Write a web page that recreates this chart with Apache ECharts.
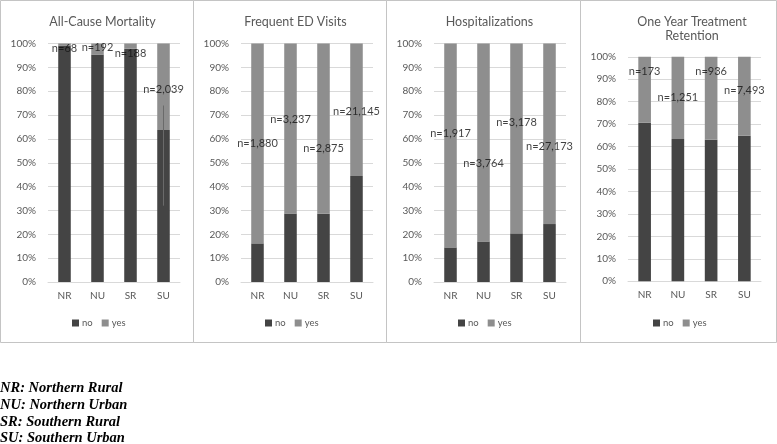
<!DOCTYPE html>
<html>
<head>
<meta charset="utf-8">
<script src="https://cdn.jsdelivr.net/npm/echarts@6/dist/echarts.min.js"></script>
<style>
  html, body { margin: 0; padding: 0; background: #fff; }
  #chart { width: 777px; height: 444px; }
</style>
</head>
<body>
<div id="chart"></div>
<script>
// categories and panel titles
var cats = ['NR', 'NU', 'SR', 'SU'];
var titles = ['All-Cause Mortality', 'Frequent ED Visits', 'Hospitalizations', 'One Year Treatment\nRetention'];

// % "no" / "yes" per panel
var mortalityNo = [99.2, 95.4, 97.8, 63.7];
var mortalityYes = [0.8, 4.6, 2.2, 36.3];
var edNo = [16.2, 28.7, 28.6, 44.4];
var edYes = [83.8, 71.3, 71.4, 55.6];
var hospNo = [14.5, 17.0, 20.4, 24.3];
var hospYes = [85.5, 83.0, 79.6, 75.7];
var retentionNo = [70.6, 63.4, 63.0, 64.8];
var retentionYes = [29.4, 36.6, 37.0, 35.2];

// sample size labels and the height they sit at
var mortalityN = ['n=68', 'n=192', 'n=188', 'n=2,039'];
var mortalityLabelY = [97.8, 98.2, 95.9, 80.8];
var edN = ['n=1,880', 'n=3,237', 'n=2,875', 'n=21,145'];
var edLabelY = [57.9, 68.3, 56.2, 71.7];
var hospN = ['n=1,917', 'n=3,764', 'n=3,178', 'n=27,173'];
var hospLabelY = [62.1, 49.9, 66.7, 57.0];
var retentionN = ['n=173', 'n=1,251', 'n=936', 'n=7,493'];
var retentionLabelY = [93.4, 82.0, 93.4, 85.0];

// leader line of the SU mortality label
var leaderY = [32, 74];

var footnotes = ['NR: Northern Rural', 'NU: Northern Urban', 'SR: Southern Rural', 'SU: Southern Urban'];

var panels = [
  { no: mortalityNo, yes: mortalityYes, n: mortalityN, ny: mortalityLabelY },
  { no: edNo, yes: edYes, n: edN, ny: edLabelY },
  { no: hospNo, yes: hospYes, n: hospN, ny: hospLabelY },
  { no: retentionNo, yes: retentionYes, n: retentionN, ny: retentionLabelY }
];

// layout
var panelX = [0, 193, 386, 580];
var panelW = [193, 193, 194, 196];
var gridLeft = [48, 241, 434, 628];
var gridTop = [43.5, 43.5, 43.5, 56.8];
var gridH = [238.5, 238.5, 238.5, 224.4];
var titleX = [97.5, 290.5, 484.5, 687];
var legendX = [72, 265, 458, 653];

var dark = '#444444';
var light = '#8e8e8e';
var axisText = '#595959';
var font = 'Lato';

var myChart = echarts.init(document.getElementById('chart'), null, { renderer: 'canvas' });

var option = {
  animation: false,
  backgroundColor: '#fff',
  textStyle: { fontFamily: font },
  title: [],
  legend: [],
  grid: [],
  xAxis: [],
  yAxis: [],
  series: [],
  graphic: []
};

panels.forEach(function (p, i) {
  option.title.push({
    text: titles[i],
    left: titleX[i],
    top: 10,
    textAlign: 'center',
    textStyle: { fontFamily: font, fontSize: 12.5, fontWeight: 'normal', color: axisText, lineHeight: 14 }
  });
  option.legend.push({
    data: ['no', 'yes'],
    left: legendX[i],
    top: 318,
    icon: 'rect',
    itemWidth: 7,
    itemHeight: 7,
    itemGap: 9,
    textStyle: { fontFamily: font, fontSize: 9.5, color: axisText, padding: [0, 0, 0, -2] },
    padding: 0
  });
  option.grid.push({ left: gridLeft[i], top: gridTop[i], width: i === 3 ? 133 : 132, height: gridH[i] });
  option.xAxis.push({
    type: 'category',
    gridIndex: i,
    data: cats,
    axisTick: { show: false },
    axisLine: { lineStyle: { color: '#d9d9d9' } },
    axisLabel: { color: axisText, fontSize: 10, margin: 9, fontFamily: font }
  });
  option.yAxis.push({
    type: 'value',
    gridIndex: i,
    min: 0,
    max: 100,
    interval: 10,
    axisLine: { show: false },
    axisTick: { show: false },
    splitLine: { lineStyle: { color: '#d9d9d9' } },
    axisLabel: { color: axisText, fontSize: 10, margin: 12, fontFamily: font, formatter: '{value}%' }
  });
  option.series.push({
    name: 'no', type: 'bar', stack: 's' + i, xAxisIndex: i, yAxisIndex: i,
    data: p.no, barWidth: '38%', itemStyle: { color: dark }
  });
  option.series.push({
    name: 'yes', type: 'bar', stack: 's' + i, xAxisIndex: i, yAxisIndex: i,
    data: p.yes, barWidth: '38%', itemStyle: { color: light }
  });
  option.series.push({
    type: 'scatter', xAxisIndex: i, yAxisIndex: i, symbolSize: 0, silent: true, z: 5,
    data: p.ny.map(function (v, k) { return [k, v]; }),
    label: {
      show: true, position: 'inside', fontFamily: font, fontSize: 11, color: '#111',
      formatter: function (d) { return p.n[d.dataIndex]; }
    }
  });
  option.graphic.push({
    type: 'rect',
    shape: { x: panelX[i] + 0.5, y: 0.5, width: panelW[i], height: 342 },
    style: { fill: null, stroke: '#c4c4c4', lineWidth: 1 },
    z: -1
  });
});

// leader line from the SU mortality label down into its bar
option.series.push({
  type: 'line', xAxisIndex: 0, yAxisIndex: 0, silent: true, symbol: 'none', z: 4,
  data: leaderY.map(function (v) { return [3, v]; }),
  lineStyle: { color: '#6a6a6a', width: 1 }
});

footnotes.forEach(function (t, k) {
  option.graphic.push({
    type: 'text',
    left: 0,
    top: 381 + k * 16.7,
    style: { text: t, font: 'italic bold 14.5px "Liberation Serif"', fill: '#000' }
  });
});

myChart.setOption(option);
</script>
</body>
</html>
